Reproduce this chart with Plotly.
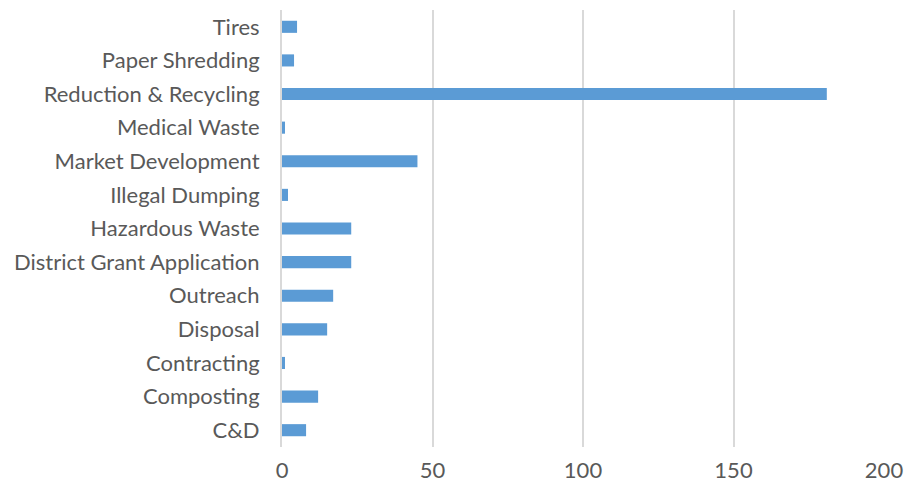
import plotly.graph_objects as go

categories = ["C&D", "Composting", "Contracting", "Disposal", "Outreach",
              "District Grant Application", "Hazardous Waste", "Illegal Dumping",
              "Market Development", "Medical Waste", "Reduction & Recycling",
              "Paper Shredding", "Tires"]
values = [8, 12, 1, 15, 17, 23, 23, 2, 45, 1, 181, 4, 5]
x_ticks = [0, 50, 100, 150, 200]

fig = go.Figure(go.Bar(
    y=categories, x=values, orientation="h",
    marker=dict(color="#5B9BD5", line=dict(width=0)),
))

fig.update_layout(
    width=906, height=489,
    margin=dict(l=282, r=22, t=10, b=42),
    paper_bgcolor="white", plot_bgcolor="white",
    bargap=0.64,
    showlegend=False,
    font=dict(family="Lato", size=22, color="#595959"),
)
fig.update_xaxes(
    range=[0, 200], tickvals=x_ticks, ticktext=[str(v) for v in x_ticks],
    showgrid=True, gridcolor="#D9D9D9", gridwidth=2,
    zeroline=False, showline=False, ticks="", ticklabelstandoff=8,
    automargin=False,
    tickfont=dict(size=22, color="#595959"),
)
fig.update_yaxes(
    categoryorder="array", categoryarray=categories,
    showgrid=False, zeroline=False,
    showline=True, linecolor="#D9D9D9", linewidth=2,
    ticks="", ticklabelstandoff=16, automargin=False,
    tickfont=dict(size=22, color="#595959"),
)

fig.write_html("out.html", config={"displayModeBar": False},
               post_script="document.body.style.margin='0';")
